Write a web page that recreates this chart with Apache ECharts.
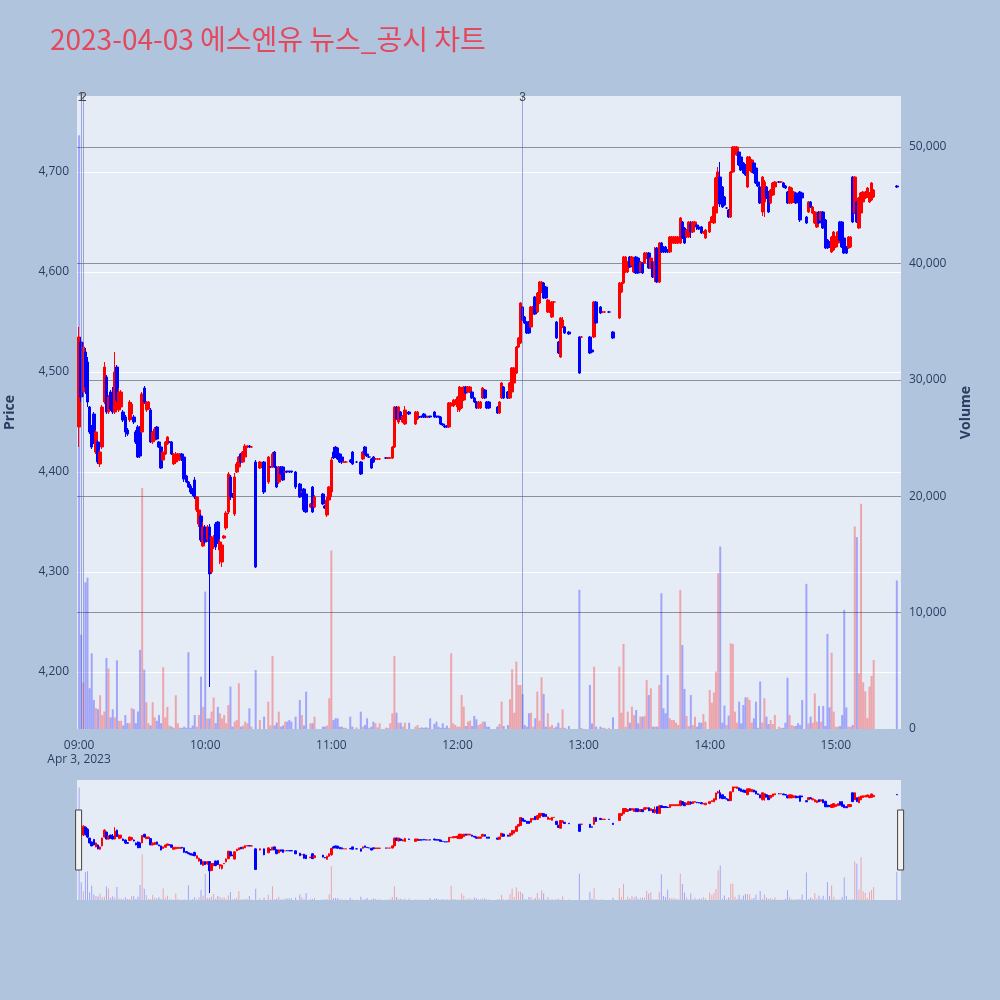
<!DOCTYPE html>
<html>
<head>
<meta charset="utf-8">
<script src="https://cdn.jsdelivr.net/npm/echarts@6/dist/echarts.min.js"></script>
<style>
  html, body { margin: 0; padding: 0; background: #b0c4de; }
  #chart { width: 1000px; height: 1000px; }
</style>
</head>
<body>
<div id="chart"></div>
<script>
// minutes after 09:00 that have a trade
var minuteIdx = [
  0,1,2,3,4,5,6,7,8,9,
  10,11,12,13,14,15,16,17,18,19,
  20,21,22,23,24,25,26,27,28,29,
  30,31,32,33,34,35,36,37,38,39,
  40,41,42,43,44,45,46,47,48,49,
  50,51,52,53,54,55,56,57,58,59,
  60,61,62,63,64,65,66,67,68,69,
  70,71,72,73,74,75,76,77,78,79,
  80,81,82,84,86,88,90,91,92,93,
  94,95,96,97,98,99,100,101,103,105,
  106,107,108,110,111,112,116,117,118,119,
  120,121,122,123,124,125,126,127,129,130,
  132,134,135,136,137,138,139,140,141,142,
  143,146,147,148,149,150,151,152,153,154,
  155,157,160,161,162,163,164,165,166,167,
  169,170,171,172,173,174,175,176,177,178,
  179,180,181,182,183,184,185,186,187,188,
  189,190,191,192,193,194,195,199,200,201,
  202,204,205,206,207,208,209,210,211,212,
  213,214,215,216,217,218,219,220,221,222,
  223,224,225,226,227,228,229,230,231,233,
  238,239,243,244,245,246,248,249,250,252,
  254,257,258,259,260,261,262,263,264,265,
  266,267,268,269,270,271,272,273,274,275,
  276,277,278,279,280,281,282,283,284,285,
  286,287,288,289,290,291,292,293,294,295,
  296,297,298,300,301,302,303,304,305,306,
  307,308,309,310,311,312,313,314,315,316,
  317,318,319,320,321,322,323,324,325,326,
  327,328,329,330,331,333,334,335,336,337,
  338,339,340,341,342,343,344,346,347,348,
  349,350,351,352,353,354,355,356,357,358,
  359,360,361,362,363,364,365,366,367,368,
  369,370,371,372,373,374,375,376,377,378,
  389
];
var openPx = [
  4445,4530,4480,4520,4510,4465,4445,4458,4420,4430,
  4408,4425,4470,4495,4460,4480,4475,4460,4505,4462,
  4465,4460,4455,4442,4452,4458,4455,4440,4445,4440,
  4440,4484,4462,4463,4462,4430,4432,4445,4430,4425,
  4412,4418,4428,4430,4430,4408,4410,4412,4412,4418,
  4415,4396,4390,4386,4383,4392,4362,4348,4356,4326,
  4345,4333,4345,4300,4325,4348,4350,4322,4310,4334,
  4344,4360,4395,4378,4358,4400,4405,4418,4410,4415,
  4425,4426,4425,4410,4404,4410,4390,4405,4405,4420,
  4405,4390,4405,4405,4400,4401,4401,4401,4400,4388,
  4380,4383,4378,4365,4385,4365,4378,4366,4357,4372,
  4380,4420,4425,4424,4418,4415,4410,4410,4412,4420,
  4410,4410,4413,4425,4418,4415,4413,4415,4413,4413,
  4413,4414,4414,4414,4414,4425,4465,4450,4460,4450,
  4448,4460,4448,4453,4455,4456,4458,4456,4455,4456,
  4460,4456,4456,4455,4448,4446,4446,4445,4466,4466,
  4468,4465,4462,4464,4472,4485,4480,4480,4480,4474,
  4470,4464,4464,4474,4482,4470,4470,4465,4459,4474,
  4485,4480,4474,4480,4489,4499,4525,4529,4565,4555,
  4550,4550,4545,4558,4575,4560,4569,4580,4589,4585,
  4560,4560,4555,4570,4550,4530,4515,4545,4545,4540,
  4535,4535,4535,4522,4535,4570,4565,4560,4560,4560,
  4540,4554,4580,4589,4600,4600,4615,4607,4600,4615,
  4614,4600,4609,4609,4614,4619,4604,4610,4595,4624,
  4590,4629,4625,4625,4622,4620,4629,4629,4629,4629,
  4629,4650,4644,4635,4635,4648,4640,4647,4647,4645,
  4645,4639,4634,4640,4650,4649,4659,4694,4695,4685,
  4675,4664,4662,4655,4700,4720,4717,4720,4715,4709,
  4707,4685,4702,4700,4709,4704,4690,4685,4660,4670,
  4685,4680,4669,4677,4685,4690,4690,4689,4686,4680,
  4669,4669,4670,4679,4677,4680,4679,4655,4660,4670,
  4659,4649,4645,4660,4652,4660,4652,4632,4630,4620,
  4622,4625,4629,4650,4650,4634,4625,4624,4625,4695,
  4659,4670,4644,4659,4670,4674,4675,4670,4672,4675,
  4686
];
var closePx = [
  4535,4475,4525,4485,4470,4440,4425,4430,4440,4410,
  4420,4465,4505,4460,4475,4463,4460,4500,4472,4480,
  4480,4452,4440,4438,4470,4468,4450,4430,4415,4416,
  4478,4470,4470,4470,4430,4440,4443,4433,4425,4404,
  4420,4430,4435,4430,4418,4418,4418,4418,4418,4415,
  4393,4390,4385,4380,4378,4375,4375,4362,4332,4345,
  4330,4345,4298,4335,4335,4325,4330,4330,4327,4336,
  4359,4398,4375,4375,4395,4408,4415,4410,4420,4426,
  4426,4425,4425,4305,4410,4380,4415,4405,4418,4405,
  4385,4405,4398,4392,4400,4400,4400,4400,4385,4375,
  4380,4362,4360,4368,4360,4375,4368,4364,4372,4385,
  4412,4414,4415,4413,4410,4410,4410,4410,4410,4408,
  4410,4398,4420,4418,4416,4415,4404,4410,4413,4413,
  4413,4414,4414,4414,4425,4465,4453,4465,4453,4456,
  4462,4458,4460,4460,4455,4455,4455,4455,4455,4455,
  4455,4455,4455,4448,4447,4445,4445,4469,4469,4472,
  4472,4475,4485,4484,4485,4479,4485,4485,4474,4470,
  4464,4470,4470,4484,4474,4464,4464,4459,4470,4489,
  4474,4474,4489,4504,4504,4525,4534,4569,4552,4549,
  4539,4539,4565,4565,4558,4579,4590,4590,4574,4574,
  4572,4565,4570,4570,4534,4519,4554,4552,4539,4538,
  4499,4535,4519,4520,4570,4549,4559,4560,4560,4560,
  4534,4589,4589,4615,4615,4610,4605,4615,4614,4599,
  4599,4610,4599,4619,4619,4604,4614,4595,4610,4590,
  4629,4620,4620,4620,4620,4635,4635,4635,4635,4635,
  4654,4634,4629,4642,4650,4640,4650,4650,4645,4643,
  4639,4640,4642,4650,4655,4665,4694,4700,4668,4665,
  4667,4664,4655,4700,4725,4725,4725,4707,4702,4699,
  4697,4715,4715,4712,4699,4689,4686,4669,4695,4690,
  4674,4660,4682,4689,4690,4690,4690,4685,4684,4669,
  4685,4684,4680,4669,4670,4652,4674,4649,4670,4665,
  4665,4660,4655,4649,4660,4644,4624,4624,4625,4635,
  4640,4635,4640,4632,4625,4619,4619,4635,4635,4650,
  4695,4650,4674,4679,4680,4680,4684,4679,4689,4682,
  4685
];
var lowPx = [
  4425,4470,4475,4478,4465,4438,4423,4428,4418,4408,
  4405,4423,4468,4458,4458,4461,4458,4458,4470,4460,
  4462,4450,4435,4436,4450,4452,4448,4428,4414,4414,
  4439,4468,4460,4462,4429,4428,4430,4432,4424,4403,
  4411,4417,4427,4429,4417,4407,4408,4411,4411,4411,
  4390,4389,4384,4378,4376,4373,4360,4345,4330,4325,
  4328,4330,4185,4298,4323,4322,4328,4308,4305,4333,
  4342,4358,4372,4374,4356,4399,4404,4408,4409,4414,
  4424,4424,4424,4304,4403,4378,4388,4404,4404,4404,
  4384,4388,4397,4391,4399,4399,4399,4399,4383,4374,
  4379,4360,4359,4364,4359,4364,4367,4363,4355,4370,
  4375,4413,4414,4412,4409,4408,4409,4409,4409,4407,
  4409,4397,4412,4417,4415,4414,4403,4409,4412,4412,
  4412,4413,4413,4413,4413,4424,4452,4448,4452,4449,
  4447,4457,4447,4452,4454,4454,4454,4454,4454,4454,
  4454,4454,4454,4447,4446,4444,4444,4444,4465,4465,
  4467,4460,4460,4463,4471,4478,4479,4479,4473,4469,
  4463,4463,4463,4473,4473,4463,4463,4458,4458,4473,
  4473,4473,4473,4479,4488,4498,4524,4528,4551,4548,
  4538,4538,4544,4557,4557,4559,4568,4579,4573,4573,
  4559,4559,4554,4569,4533,4518,4514,4544,4538,4537,
  4498,4534,4518,4519,4534,4548,4558,4559,4559,4559,
  4533,4553,4579,4588,4599,4599,4604,4606,4599,4598,
  4598,4599,4598,4608,4613,4603,4603,4594,4590,4589,
  4589,4619,4619,4619,4619,4619,4628,4628,4628,4628,
  4628,4633,4628,4634,4634,4634,4639,4646,4642,4642,
  4638,4638,4633,4639,4649,4648,4658,4690,4665,4664,
  4666,4663,4654,4654,4699,4719,4716,4706,4701,4698,
  4696,4684,4701,4699,4698,4688,4685,4668,4656,4655,
  4673,4659,4668,4676,4684,4689,4689,4684,4683,4668,
  4668,4668,4669,4668,4669,4650,4673,4648,4659,4664,
  4658,4648,4644,4648,4651,4643,4623,4623,4624,4619,
  4621,4624,4628,4631,4624,4618,4618,4623,4624,4649,
  4658,4649,4643,4658,4669,4673,4674,4669,4671,4674,
  4684
];
var highPx = [
  4545,4535,4530,4524,4515,4466,4447,4460,4442,4432,
  4422,4467,4510,4497,4477,4482,4485,4520,4507,4484,
  4482,4462,4457,4444,4472,4470,4457,4442,4447,4446,
  4480,4486,4471,4471,4464,4441,4445,4446,4431,4426,
  4421,4431,4436,4431,4431,4419,4420,4419,4419,4419,
  4416,4397,4391,4388,4384,4395,4376,4365,4358,4350,
  4347,4347,4348,4336,4337,4350,4351,4333,4330,4337,
  4361,4400,4397,4379,4399,4410,4416,4419,4421,4428,
  4427,4427,4426,4412,4411,4411,4416,4406,4420,4421,
  4406,4406,4406,4406,4401,4401,4401,4401,4401,4389,
  4381,4384,4379,4369,4386,4377,4379,4367,4375,4386,
  4415,4425,4426,4425,4419,4416,4411,4411,4413,4421,
  4411,4411,4421,4426,4419,4416,4414,4416,4414,4414,
  4414,4415,4415,4415,4426,4466,4466,4466,4461,4457,
  4466,4461,4461,4461,4456,4456,4459,4456,4456,4456,
  4461,4456,4456,4456,4449,4447,4447,4470,4470,4473,
  4473,4476,4486,4485,4486,4486,4486,4486,4481,4475,
  4471,4471,4471,4485,4483,4471,4471,4466,4471,4490,
  4486,4481,4490,4505,4505,4526,4535,4570,4566,4556,
  4551,4551,4566,4566,4576,4580,4591,4591,4590,4586,
  4573,4566,4571,4571,4551,4531,4555,4555,4546,4541,
  4536,4536,4536,4523,4571,4571,4566,4561,4561,4561,
  4541,4590,4590,4616,4616,4611,4616,4616,4615,4616,
  4615,4611,4610,4620,4620,4620,4615,4611,4625,4625,
  4630,4630,4626,4626,4623,4636,4636,4636,4636,4636,
  4655,4651,4645,4643,4651,4651,4651,4651,4648,4646,
  4646,4641,4643,4651,4656,4666,4695,4705,4710,4686,
  4676,4665,4663,4701,4726,4726,4726,4721,4716,4710,
  4708,4716,4716,4713,4710,4705,4691,4686,4696,4692,
  4686,4681,4683,4690,4691,4691,4691,4690,4687,4681,
  4686,4685,4681,4680,4678,4681,4680,4656,4671,4671,
  4666,4661,4656,4661,4661,4661,4653,4633,4631,4636,
  4641,4636,4641,4651,4651,4635,4626,4636,4636,4696,
  4696,4671,4675,4680,4681,4681,4685,4680,4690,4683,
  4687
];
var volume = [
  51000,8100,4000,12600,13000,3500,6500,2500,1800,1700,
  2900,1200,1500,6100,5200,1000,1700,1000,5900,700,
  700,300,1200,500,500,1800,1700,500,1500,6800,
  20700,5100,2300,500,300,2300,1000,700,1200,500,
  5300,1000,1900,300,200,100,2900,500,100,100,
  200,100,6600,100,300,1200,200,1200,4500,1900,
  11800,900,900,1500,2700,500,1900,1350,900,1200,
  500,2060,3640,200,630,770,3930,200,300,630,
  490,1780,200,5070,770,1060,2350,300,6280,300,
  550,1490,200,300,630,630,770,630,1060,2490,
  1200,300,3210,490,490,1060,200,200,300,2640,
  15340,770,920,920,200,200,100,100,1060,200,
  140,1490,200,340,920,100,200,630,490,140,
  490,100,100,490,1350,6280,1400,540,540,200,
  540,540,200,340,100,140,100,140,100,920,
  430,630,200,100,490,100,290,100,6510,490,
  340,200,200,2920,1920,260,630,720,260,1120,
  830,340,430,630,630,200,200,200,430,2350,
  260,340,2550,5130,1400,5790,3780,3780,3000,340,
  200,1350,1400,200,920,3210,720,4440,3010,200,
  1350,200,340,100,200,540,100,1690,100,260,
  11960,100,3780,480,5360,200,200,100,100,100,
  1000,5360,1400,7310,200,1490,540,1920,1200,1630,
  490,1060,1060,1120,4200,2920,3500,200,200,200,
  3780,11660,1780,1350,4640,920,770,770,550,340,
  11950,7220,3440,1120,260,2920,340,1060,200,550,
  550,1290,630,3350,2260,3130,4930,13380,15680,550,
  2010,340,1150,7370,7310,1490,550,2350,490,2060,
  2720,2720,2490,550,920,2350,100,4080,550,2640,
  1060,430,770,430,1200,200,100,100,540,4410,
  1200,340,260,260,490,340,2490,12470,490,1060,
  540,3050,630,1980,630,1980,260,8170,1860,6560,
  1490,200,200,260,1200,10230,1860,200,200,340,
  17400,16480,4790,19350,4010,3230,930,3640,4560,5930,
  12760
];
// news / disclosure markers
var newsMinutes = [1, 2, 211];
var newsLabels = ['1', '2', '3'];

var upColor = '#ff0000';
var downColor = '#0000ff';
var firstMin = -1, lastMin = 391;

function pad(n) { return (n < 10 ? '0' : '') + n; }
function minLabel(m) { var t = 540 + m; return pad(Math.floor(t / 60)) + ':' + pad(t % 60); }

var cats = [], candle = [], vols = [];
for (var m = firstMin; m <= lastMin; m++) {
  cats.push(minLabel(m));
  candle.push('-');
  vols.push('-');
}
minuteIdx.forEach(function (mm, i) {
  var k = mm - firstMin;
  candle[k] = [openPx[i], closePx[i], lowPx[i], highPx[i]];
  // volume bar takes the candle's direction; the opening auction bar is drawn blue
  var up = i > 0 && closePx[i] >= openPx[i];
  vols[k] = {
    value: volume[i],
    itemStyle: { color: up ? 'rgba(255,0,0,0.3)' : 'rgba(0,0,255,0.3)' }
  };
});

var volMax = 54381;
var fmt = function (v) { return Number(v).toLocaleString('en-US'); };

var option = {
  backgroundColor: '#b0c4de',
  animation: false,
  title: {
    text: '2023-04-03 에스엔유 뉴스_공시 차트',
    left: 45,
    top: 20,
    textStyle: {
      fontFamily: 'Noto Sans CJK KR',
      fontSize: 28,
      fontWeight: 'normal',
      color: '#e5485c'
    }
  },
  grid: [
    { left: 77, right: 99, top: 96, bottom: 271, show: true, backgroundColor: '#e5ecf6', borderWidth: 0, containLabel: false, outerBoundsMode: 'none' },
    { left: 77, right: 99, top: 780, height: 120, show: true, backgroundColor: '#e5ecf6', borderWidth: 0, containLabel: false, outerBoundsMode: 'none' }
  ],
  xAxis: [{
    type: 'category',
    gridIndex: 0,
    data: cats,
    boundaryGap: false,
    axisLine: { show: false },
    axisTick: { show: false },
    splitLine: { show: false },
    axisLabel: {
      color: '#2a3f5f',
      fontSize: 12,
      fontFamily: 'Open Sans',
      margin: 10,
      lineHeight: 14,
      interval: function (idx, val) { return /:00$/.test(val); },
      formatter: function (val) { return val === '09:00' ? '09:00\nApr 3, 2023' : val; }
    }
  }, {
    type: 'category',
    gridIndex: 1,
    data: cats,
    boundaryGap: false,
    show: false
  }],
  yAxis: [{
    type: 'value',
    gridIndex: 0,
    position: 'left',
    min: 4143,
    max: 4776,
    splitNumber: 6,
    name: 'Price',
    nameLocation: 'middle',
    nameGap: 60,
    nameTextStyle: { color: '#2a3f5f', fontSize: 14, fontWeight: 'bold', fontFamily: 'Open Sans' },
    axisLine: { show: false },
    axisTick: { show: false },
    axisLabel: { color: '#2a3f5f', fontSize: 12, fontFamily: 'Open Sans', formatter: fmt, showMinLabel: false, showMaxLabel: false },
    splitLine: { showMinLine: false, showMaxLine: false, lineStyle: { color: '#ffffff', width: 1 } }
  }, {
    type: 'value',
    gridIndex: 0,
    position: 'right',
    min: 0,
    max: volMax,
    splitNumber: 5,
    name: 'Volume',
    nameLocation: 'middle',
    nameGap: 58,
    nameTextStyle: { color: '#2a3f5f', fontSize: 14, fontWeight: 'bold', fontFamily: 'Open Sans' },
    axisLine: { show: false },
    axisTick: { show: false },
    axisLabel: { color: '#2a3f5f', fontSize: 12, fontFamily: 'Open Sans', formatter: fmt, showMaxLabel: false },
    splitLine: { showMinLine: false, showMaxLine: false, lineStyle: { color: '#8c9099', width: 1 } }
  }, {
    type: 'value', gridIndex: 1, min: 4150, max: 4760, show: false
  }, {
    type: 'value', gridIndex: 1, min: 0, max: volMax, show: false
  }],
  dataZoom: [{
    type: 'slider',
    xAxisIndex: 0,
    start: 0,
    end: 100,
    left: 77,
    right: 99,
    top: 780,
    height: 120,
    backgroundColor: 'rgba(0,0,0,0)',
    borderColor: 'rgba(0,0,0,0)',
    fillerColor: 'rgba(0,0,0,0)',
    showDetail: false,
    brushSelect: false,
    moveHandleSize: 0,
    handleIcon: 'path://M0,0 L6,0 L6,60 L0,60 Z',
    handleSize: '50%',
    handleStyle: { color: '#f2f2f2', borderColor: '#444444', borderWidth: 1 },
    dataBackground: { lineStyle: { opacity: 0 }, areaStyle: { opacity: 0 } },
    selectedDataBackground: { lineStyle: { opacity: 0 }, areaStyle: { opacity: 0 } }
  }],
  series: [{
    name: 'Volume',
    type: 'bar',
    xAxisIndex: 0,
    yAxisIndex: 1,
    barWidth: 2,
    data: vols,
    z: 1
  }, {
    name: 'Price',
    type: 'candlestick',
    xAxisIndex: 0,
    yAxisIndex: 0,
    barWidth: 3,
    data: candle,
    z: 3,
    itemStyle: { color: upColor, color0: downColor, borderColor: upColor, borderColor0: downColor, borderWidth: 1 },
    markLine: {
      symbol: ['none', 'none'],
      silent: true,
      lineStyle: { color: 'rgba(90,105,200,0.55)', width: 1, type: 'solid' },
      label: { show: true, position: 'end', color: '#444', fontSize: 12, distance: -8, formatter: '{b}' },
      data: newsMinutes.map(function (mm, i) { return { name: newsLabels[i], xAxis: minLabel(mm) }; })
    }
  }, {
    type: 'bar',
    xAxisIndex: 1,
    yAxisIndex: 3,
    barWidth: 1,
    data: vols
  }, {
    type: 'candlestick',
    xAxisIndex: 1,
    yAxisIndex: 2,
    barWidth: 2,
    data: candle,
    itemStyle: { color: upColor, color0: downColor, borderColor: upColor, borderColor0: downColor, borderWidth: 1 }
  }]
};

var myChart = echarts.init(document.getElementById('chart'));
myChart.setOption(option);
window.addEventListener('resize', function () { myChart.resize(); });
</script>
</body>
</html>
